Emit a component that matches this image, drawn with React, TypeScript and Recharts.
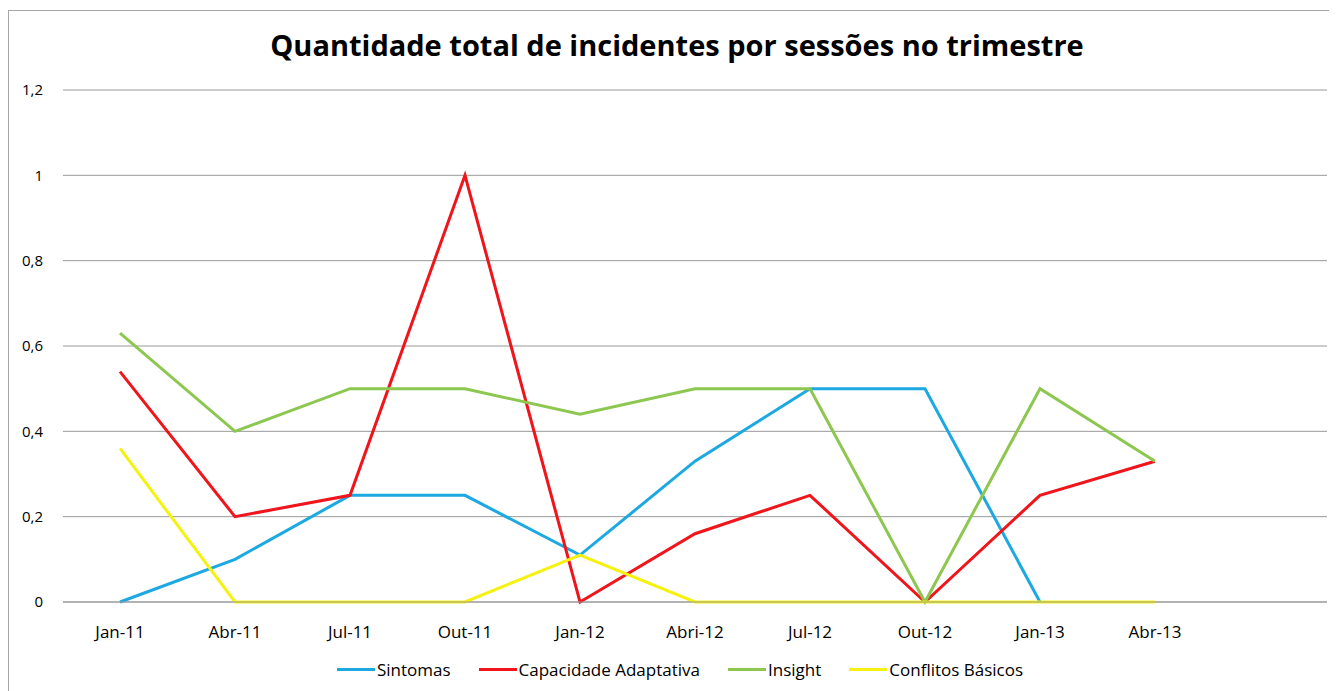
import { LineChart, Line, XAxis, YAxis, CartesianGrid, Legend } from 'recharts';

const quarters = ['Jan-11', 'Abr-11', 'Jul-11', 'Out-11', 'Jan-12', 'Abri-12', 'Jul-12', 'Out-12', 'Jan-13', 'Abr-13', ''];

const sintomas = [0, 0.1, 0.25, 0.25, 0.11, 0.33, 0.5, 0.5, 0, null, null];
const capacidade = [0.54, 0.2, 0.25, 1, 0, 0.16, 0.25, 0, 0.25, 0.33, null];
const insight = [0.63, 0.4, 0.5, 0.5, 0.44, 0.5, 0.5, 0, 0.5, 0.33, null];
const conflitos = [0.36, 0, 0, 0, 0.11, 0, 0, 0, 0, 0, null];

const yTicks = [0, 0.2, 0.4, 0.6, 0.8, 1, 1.2];

const series = [
  { key: 'sintomas', name: 'Sintomas', color: '#1CA9E1' },
  { key: 'capacidade', name: 'Capacidade Adaptativa', color: '#F0141B' },
  { key: 'insight', name: 'Insight', color: '#8DC750' },
  { key: 'conflitos', name: 'Conflitos Básicos', color: '#F5F20F' },
];

const data = quarters.map((q, i) => ({
  quarter: q,
  sintomas: sintomas[i],
  capacidade: capacidade[i],
  insight: insight[i],
  conflitos: conflitos[i],
}));

const font = "'Open Sans', sans-serif";

const fmt = (v: number) => String(v).replace('.', ',');

function ExcelLegend() {
  return (
    <div style={{ display: 'flex', justifyContent: 'center', gap: 28, fontFamily: font, fontSize: 17, color: '#000', paddingLeft: 24 }}>
      {series.map((s) => (
        <div key={s.key} style={{ display: 'flex', alignItems: 'center' }}>
          <span style={{ display: 'inline-block', width: 38, height: 3, background: s.color, marginRight: 2 }} />
          <span>{s.name}</span>
        </div>
      ))}
    </div>
  );
}

export default function App() {
  return (
    <div style={{ position: 'relative', width: 1324, height: 690, border: '1px solid #a6a6a6', borderBottom: 'none', marginTop: 2 }}>
      <div
        style={{
          position: 'absolute',
          top: 14,
          left: 6,
          width: '100%',
          textAlign: 'center',
          fontFamily: font,
          fontWeight: 700,
          fontSize: 29,
          color: '#000',
        }}
      >
        Quantidade total de incidentes por sessões no trimestre
      </div>
      <LineChart width={1322} height={680} data={data} margin={{ top: 79, right: 4, left: 0, bottom: 9 }}>
        <CartesianGrid vertical={false} stroke="#999999" strokeWidth={1} />
        <XAxis
          dataKey="quarter"
          tickLine={false}
          axisLine={{ stroke: '#999999' }}
          tick={{ fill: '#000', fontSize: 17, fontFamily: font }}
          tickMargin={18}
          height={56}
          interval={0}
          padding={{ left: 57, right: 57 }}
        />
        <YAxis
          domain={[0, 1.2]}
          ticks={yTicks}
          tickFormatter={fmt}
          tickLine={false}
          axisLine={false}
          width={54}
          tick={{ fill: '#000', fontSize: 15, fontFamily: font }}
          tickMargin={14}
        />
        <Legend verticalAlign="bottom" height={24} content={<ExcelLegend />} />
        {series.map((s) => (
          <Line
            key={s.key}
            type="linear"
            dataKey={s.key}
            name={s.name}
            stroke={s.color}
            strokeWidth={3}
            dot={false}
            activeDot={false}
            isAnimationActive={false}
          />
        ))}
      </LineChart>
    </div>
  );
}
